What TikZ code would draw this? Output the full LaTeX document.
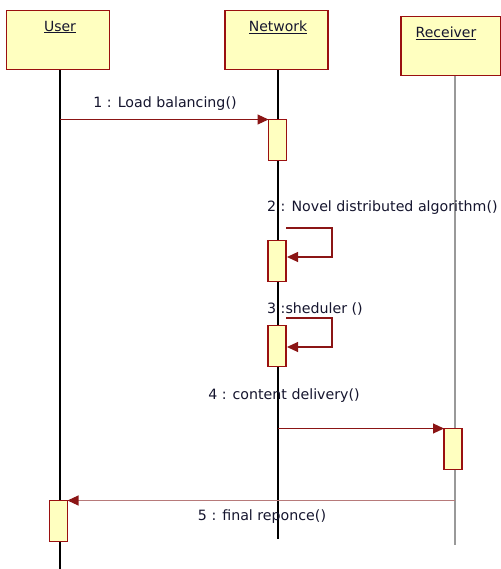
\documentclass[tikz,border=0pt]{standalone}
\usepackage{fontspec}
\setmainfont{DejaVu Sans}
\usetikzlibrary{arrows.meta,calc}
\definecolor{boxred}{HTML}{9A1010}
\definecolor{boxfill}{HTML}{FFFFC0}
\definecolor{msgred}{HTML}{8B1515}
\definecolor{retred}{HTML}{B77A7A}
\definecolor{txt}{HTML}{15152E}
\tikzset{
  lifebox/.style={draw=boxred,fill=boxfill,line width=1.8pt,minimum width=103pt,minimum height=59pt,inner sep=0pt,outer sep=0pt},
  title/.style={font=\fontsize{14}{15}\selectfont,text=txt,inner sep=0pt},
  act/.style={draw=boxred,fill=boxfill,line width=1.2pt,minimum width=18pt,minimum height=41pt,inner sep=0pt,outer sep=0pt},
  lbl/.style={font=\fontsize{14.2}{15}\selectfont,text=txt,inner sep=0pt},
  life/.style={line width=1.1pt,black},
  msg/.style={draw=msgred,line width=1.1pt,-{Triangle[length=11pt,width=10pt]}},
}
\begin{document}
\begin{tikzpicture}[x=1pt,y=-1pt]
\useasboundingbox (0,0) rectangle (500,569);
% lifelines
\coordinate (ut) at (60,70); \coordinate (ub) at (60,569);
\coordinate (nt) at (278,70); \coordinate (nb) at (278,539);
\coordinate (rt) at (455,76); \coordinate (rb) at (455,545);
\draw[life] (ut) -- (ub);
\draw[life] (nt) -- (nb);
\draw[line width=1.4pt,gray!80] (rt) -- (rb);
% heads
\node[lifebox] (user) at (58,40) {};
\node[lifebox] (net) at (276.5,40) {};
\node[lifebox,minimum width=100pt] (rec) at (451,46) {};
\node[title] (usert) at (60,27) {\underline{User}};
\node[title] (nett) at (278,27) {\underline{Network}};
\node[title] (rect) at (446,33) {\underline{Receiver}};
% activations
\node[act] (a1) at (277.5,140) {};
\node[act] (a2) at (277,261) {};
\node[act] (a3) at (277,346) {};
\node[act] (a4) at (453,449) {};
\node[act] (a5) at (58.5,521) {};
% message 1
\coordinate (m1s) at (ut |- a1.north);
\draw[msg] (m1s) -- (a1.north west);
\node[lbl] (l1) at (165,104) {1 : Load balancing()};
% message 2
\node[lbl,anchor=west] (l2) at (267,208) {2 : Novel distributed algorithm()};
\coordinate (m2s) at (286,228);
\coordinate (m2e) at (287,257);
\draw[msg] (m2s) -- (332,228) |- (m2e);
% message 3
\node[lbl,anchor=west] (l3) at (267,309) {3 :sheduler ()};
\coordinate (m3s) at (286,318);
\coordinate (m3e) at (287,347);
\draw[msg] (m3s) -- (332,318) |- (m3e);
% message 4
\node[lbl] (l4) at (284,396) {4 : content delivery()};
\coordinate (m4s) at (nt |- a4.north);
\draw[msg] (m4s) -- (a4.north west);
% message 5
\coordinate (m5s) at (rt |- a5.north);
\draw[draw=retred,line width=1.1pt,-{Triangle[length=11pt,width=10pt,color=msgred]}] (m5s) -- (a5.north east);
\node[lbl] (l5) at (262,517) {5 : final reponce()};
\end{tikzpicture}
\end{document}
